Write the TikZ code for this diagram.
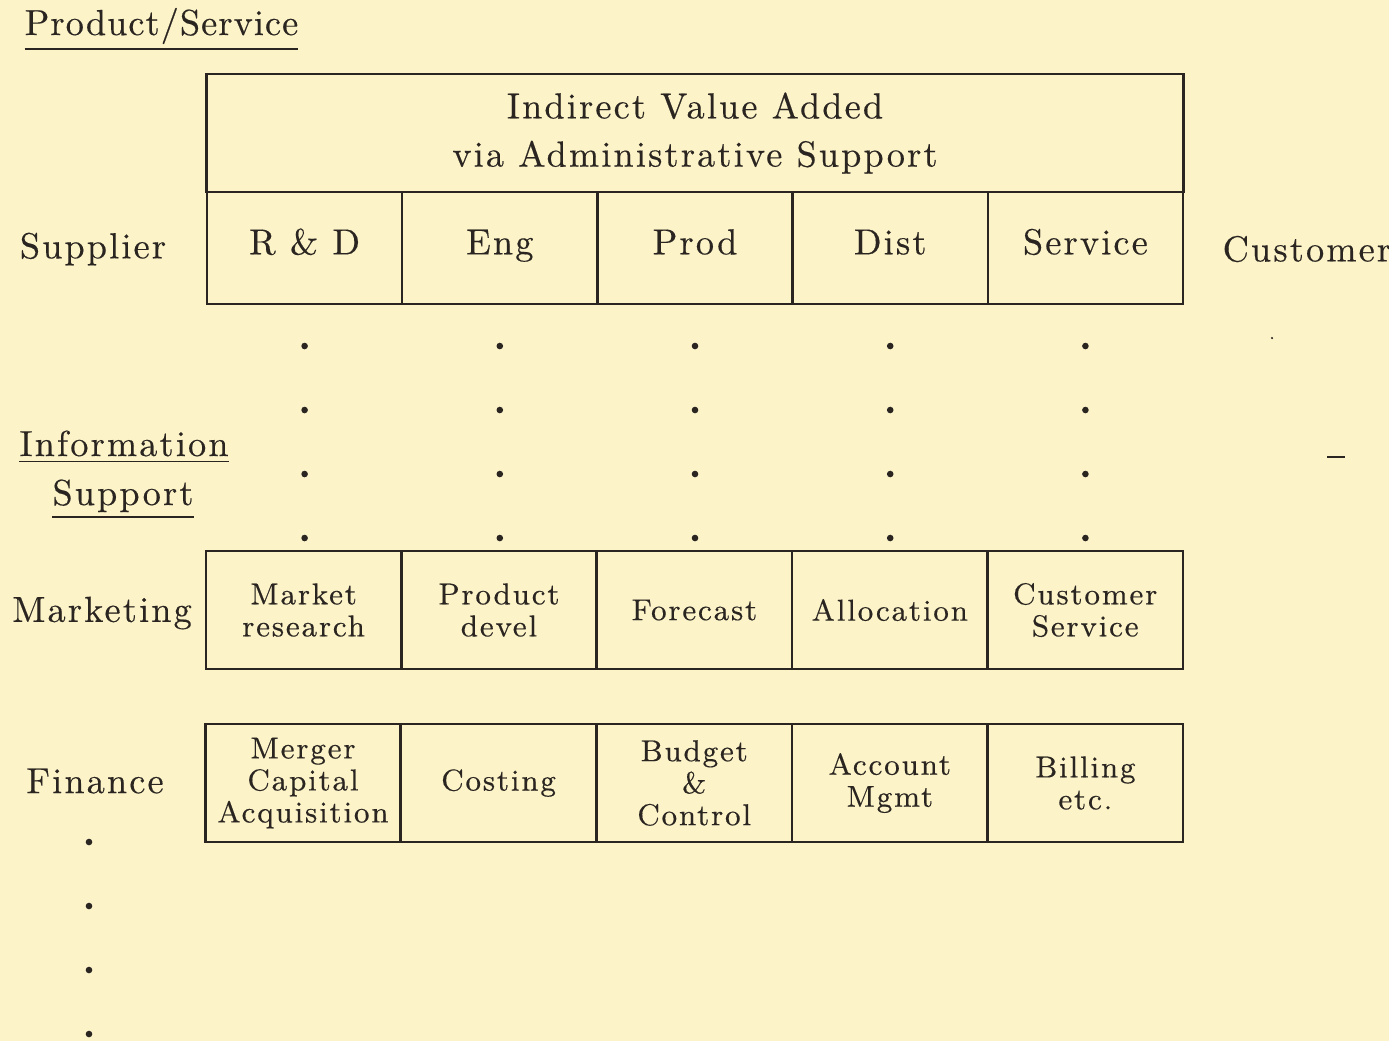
\documentclass[tikz,border=0pt]{standalone}
\usepackage{fontspec}
\setmainfont{Latin Modern Roman}[LetterSpace=6, FakeBold=0.35]
\definecolor{paper}{HTML}{FCF3C9}
\definecolor{ink}{HTML}{2A2520}
\newcommand{\bigtxt}{\fontsize{10.3}{13.7}\selectfont}
\newcommand{\smalltxt}{\fontsize{8.6}{9.1}\selectfont}
\tikzset{
    label/.style={font=\bigtxt, text=ink, inner sep=0pt},
    cell/.style={draw=ink, line width=0.7pt, minimum width=1.952cm, inner sep=0pt, align=center, text=ink},
    topcell/.style={cell, minimum height=1.12cm, font=\bigtxt, text height=7pt, text depth=3.4pt},
    infocell/.style={cell, minimum height=1.18cm, font=\smalltxt},
}
\begin{document}
\begin{tikzpicture}[x=0.01cm, y=-0.01cm]
        \useasboundingbox[fill=paper] (0,0) rectangle (1389,1041);

        \node[label, anchor=base west] (prodserv) at (24,35) {\addfontfeature{LetterSpace=3}\underline{Product/Service}};

        % value added chain
        \node[cell, font=\bigtxt, minimum width=9.76cm, minimum height=1.18cm] (indirect) at (695,133) {Indirect Value Added\\via Administrative Support};
        \node[topcell] (rd) at (304.6,248) {R \& D};
        \node[topcell] (eng) at (499.8,248) {Eng};
        \node[topcell] (prod) at (695,248) {Prod};
        \node[topcell] (dist) at (890.2,248) {Dist};
        \node[topcell] (serv) at (1085.4,248) {Service};

        \node[label] (supplier) at (93,249) {Supplier};
        \node[label, anchor=west] (customer) at (1222,249) {Customer};

        % dotted links down to the support rows
        \foreach \x in {304.6,499.8,695,890.2,1085.4}
            \foreach \y in {346,410,474,538}
                \fill[ink] (\x,\y) circle (0.033cm);

        \fill[ink] (1272,338) circle (0.012cm);
        \draw[ink, line width=0.8pt] (1327,457) -- (1345,457);

        \node[label, anchor=base] (info) at (124,456) {\underline{Information}};
        \node[label, anchor=base] (supp) at (123,505) {\underline{Support}};

        % marketing row
        \node[label] (marketing) at (102,613) {Marketing};
        \node[infocell] (mktres) at (303.6,610) {Market\\research};
        \node[infocell] (proddev) at (499,610) {Product\\devel};
        \node[infocell] (forecast) at (694.4,610) {Forecast};
        \node[infocell] (alloc) at (889.8,610) {Allocation};
        \node[infocell] (custserv) at (1085.2,610) {Customer\\Service};

        % finance row
        \node[label] (finance) at (95,781) {Finance};
        \node[infocell] (merger) at (303,783) {Merger\\Capital\\Acquisition};
        \node[infocell] (costing) at (498.6,783) {Costing};
        \node[infocell] (budget) at (694.2,783) {Budget\\\&\\Control};
        \node[infocell] (account) at (889.8,783) {Account\\Mgmt};
        \node[infocell] (billing) at (1085.4,783) {Billing\\etc.};

        \foreach \y in {842,906,970,1034}
            \fill[ink] (89,\y) circle (0.033cm);

    \end{tikzpicture}
\end{document}
